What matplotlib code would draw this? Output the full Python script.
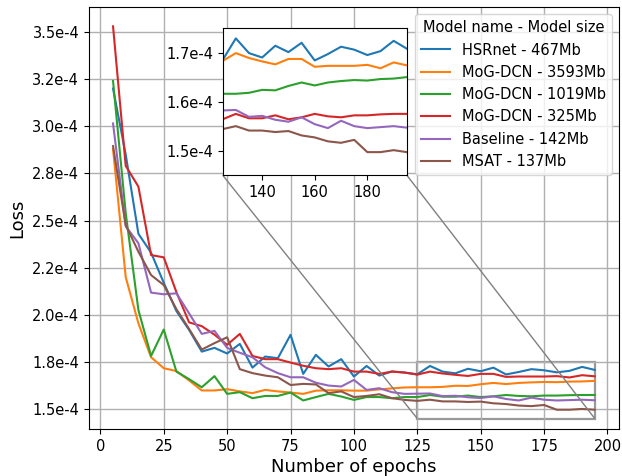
import matplotlib
matplotlib.use("Agg")
import matplotlib.pyplot as plt
import numpy as np
from matplotlib.ticker import FuncFormatter
from mpl_toolkits.axes_grid1.inset_locator import mark_inset

epochs = [5, 10, 15, 20, 25, 30, 35, 40, 45, 50, 55, 60, 65, 70, 75, 80, 85, 90, 95, 100,
          105, 110, 115, 120, 125, 130, 135, 140, 145, 150, 155, 160, 165, 170, 175, 180,
          185, 190, 195]

# losses in units of 1e-4
hsrnet = [3.20, 2.85, 2.43, 2.33, 2.17, 2.02, 1.92, 1.805, 1.825, 1.795, 1.846, 1.72, 1.779,
          1.77, 1.894, 1.687, 1.788, 1.726, 1.765, 1.673, 1.729, 1.678, 1.70, 1.694,
          1.685, 1.729, 1.699, 1.690, 1.714, 1.701, 1.720, 1.684, 1.697, 1.712, 1.706,
          1.695, 1.703, 1.724, 1.708]
mog3593 = [2.88, 2.20, 1.955, 1.775, 1.717, 1.702, 1.652, 1.599, 1.599, 1.606, 1.594, 1.585,
           1.602, 1.594, 1.588, 1.581, 1.598, 1.600, 1.600, 1.598, 1.598, 1.605, 1.610, 1.615,
           1.616, 1.616, 1.618, 1.624, 1.623, 1.632, 1.639, 1.633, 1.639, 1.642, 1.644,
           1.643, 1.646, 1.647, 1.650]
mog1019 = [3.24, 2.54, 2.026, 1.782, 1.922, 1.699, 1.659, 1.616, 1.675, 1.581, 1.590, 1.558,
           1.57, 1.57, 1.588, 1.546, 1.564, 1.581, 1.567, 1.549, 1.564, 1.564, 1.558, 1.564,
           1.564, 1.575, 1.566, 1.566, 1.572, 1.564, 1.568, 1.575, 1.570, 1.568, 1.572,
           1.572, 1.574, 1.575, 1.575]
mog325 = [3.53, 2.79, 2.68, 2.317, 2.305, 2.12, 1.96, 1.94, 1.895, 1.841, 1.899, 1.782,
          1.765, 1.765, 1.747, 1.73, 1.717, 1.712, 1.717, 1.699, 1.699, 1.687, 1.699, 1.694,
          1.683, 1.699, 1.689, 1.682, 1.676, 1.687, 1.687, 1.671, 1.673, 1.673, 1.673,
          1.675, 1.668, 1.680, 1.674]
baseline = [3.015, 2.47, 2.38, 2.118, 2.109, 2.114, 2.008, 1.899, 1.915, 1.825, 1.799, 1.775,
            1.722, 1.691, 1.669, 1.669, 1.640, 1.625, 1.62, 1.655, 1.602, 1.611, 1.59, 1.581,
            1.582, 1.583, 1.569, 1.571, 1.563, 1.559, 1.568, 1.554, 1.546, 1.561, 1.550,
            1.546, 1.548, 1.550, 1.547]
msat = [2.895, 2.476, 2.335, 2.211, 2.158, 2.03, 1.925, 1.816, 1.85, 1.881, 1.712, 1.691,
        1.678, 1.669, 1.628, 1.634, 1.631, 1.585, 1.594, 1.564, 1.57, 1.579, 1.558, 1.549,
        1.544, 1.550, 1.541, 1.541, 1.538, 1.540, 1.531, 1.527, 1.519, 1.516, 1.522,
        1.497, 1.497, 1.501, 1.497]

labels = ["HSRnet - 467Mb", "MoG-DCN - 3593Mb", "MoG-DCN - 1019Mb",
          "MoG-DCN - 325Mb", "Baseline - 142Mb", "MSAT - 137Mb"]
series = [hsrnet, mog3593, mog1019, mog325, baseline, msat]
# order of curves drawn in the zoomed inset (default colour cycle)
inset_series = [hsrnet, mog325, mog3593, mog1019, baseline, msat]

main_yticks = [1.5, 1.75, 2.0, 2.25, 2.5, 2.75, 3.0, 3.25, 3.5]
inset_yticks = [1.5, 1.6, 1.7]
inset_xticks = [140, 160, 180]

TICK_FS = 10.5
LABEL_FS = 13


def fmt(v, pos=None):
    q = round(v * 1e4 * 20) / 20
    return f"{q:.1f}e-4"


fig = plt.figure(figsize=(6.22, 4.76), dpi=100)
ax = fig.add_axes([0.143, 0.099, 0.852, 0.886])

x = np.array(epochs)
for vals, lab in zip(series, labels):
    ax.plot(x, np.array(vals) * 1e-4, label=lab, lw=1.5)

ax.set_yticks([t * 1e-4 for t in main_yticks])
ax.yaxis.set_major_formatter(FuncFormatter(fmt))
ax.set_xticks([0, 25, 50, 75, 100, 125, 150, 175, 200])
ax.tick_params(labelsize=TICK_FS)
ax.grid(True, lw=1.0)
ax.set_xlabel("Number of epochs", fontsize=LABEL_FS, labelpad=3.5)
ax.set_ylabel("Loss", fontsize=LABEL_FS)

leg = ax.legend(title="Model name - Model size", loc="upper right",
                fontsize=TICK_FS, title_fontsize=TICK_FS)

axins = fig.add_axes([0.358, 0.632, 0.296, 0.309])
for vals in inset_series:
    axins.plot(x, np.array(vals) * 1e-4, lw=1.5)
axins.set_xlim(125, 195)
axins.set_ylim(1.45e-4, 1.75e-4)
axins.set_xticks(inset_xticks)
axins.set_yticks([t * 1e-4 for t in inset_yticks])
axins.yaxis.set_major_formatter(FuncFormatter(fmt))
axins.tick_params(labelsize=TICK_FS)

pp, p1, p2 = mark_inset(ax, axins, loc1=3, loc2=4, fc="none", ec="0.5")
pp.set_edgecolor("0.6")
pp.set_linewidth(1.6)
p1.set_linewidth(1.0)
p2.set_linewidth(1.0)

fig.savefig("out.png", dpi=100)
